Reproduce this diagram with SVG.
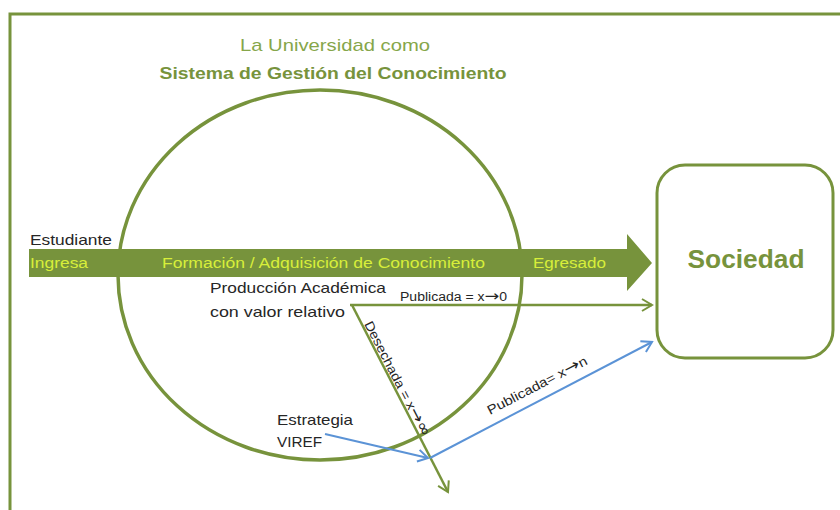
<svg xmlns="http://www.w3.org/2000/svg" width="840" height="510" viewBox="0 0 840 510">
<defs>
<style>
text{font-family:"Liberation Sans",Arial,sans-serif}
.sym{font-family:"DejaVu Sans",sans-serif;font-size:1.25em}
.g{fill:none;stroke:#77933c}
.b{fill:none;stroke:#5b93d6;stroke-width:2}
.dk{fill:#262626;font-size:15px}
.yl{fill:#d8ef3a;font-size:14px}
.sm{fill:#262626;font-size:12px}
</style>
<marker id="ag" markerUnits="userSpaceOnUse" markerWidth="14" markerHeight="14" refX="12" refY="7" orient="auto" viewBox="0 0 14 14">
<path d="M2,1 L12,7 L2,13" fill="none" stroke="#77933c" stroke-width="2"/>
</marker>
<marker id="ab" markerUnits="userSpaceOnUse" markerWidth="14" markerHeight="14" refX="12" refY="7" orient="auto" viewBox="0 0 14 14">
<path d="M2,1 L12,7 L2,13" fill="none" stroke="#5b93d6" stroke-width="2"/>
</marker>
</defs>
<rect width="840" height="510" fill="#ffffff"/>
<path d="M10,510 V14 H840" class="g" stroke-width="3"/>

<g id="title">
<text x="335" y="51" text-anchor="middle" font-size="17" fill="#86a64a" textLength="190" lengthAdjust="spacingAndGlyphs">La Universidad como</text>
<text x="333" y="79" text-anchor="middle" font-size="17" font-weight="bold" fill="#77933c" textLength="347" lengthAdjust="spacingAndGlyphs">Sistema de Gestión del Conocimiento</text>
</g>

<g id="universidad">
<ellipse cx="320" cy="275" rx="202" ry="185" class="g" stroke-width="3.5"/>
</g>

<g id="formacion">
<path d="M29,249 H627 V234 L652,263 L627,291 V277 H29 Z" fill="#77933c"/>
<text x="30" y="245" class="dk" textLength="82" lengthAdjust="spacingAndGlyphs">Estudiante</text>
<text x="30" y="268" class="yl" textLength="58" lengthAdjust="spacingAndGlyphs">Ingresa</text>
<text x="162" y="268" class="yl" textLength="323" lengthAdjust="spacingAndGlyphs">Formación / Adquisición de Conocimiento</text>
<text x="533" y="268" class="yl" textLength="73" lengthAdjust="spacingAndGlyphs">Egresado</text>
</g>

<g id="sociedad">
<rect x="657" y="165" width="176" height="193" rx="28" class="g" stroke-width="3"/>
<text x="746" y="268" text-anchor="middle" font-size="26" font-weight="bold" fill="#77933c" textLength="117" lengthAdjust="spacingAndGlyphs">Sociedad</text>
</g>

<g id="produccion">
<text x="210" y="293" class="dk" textLength="176" lengthAdjust="spacingAndGlyphs">Producción Académica</text>
<text x="210" y="317" class="dk" textLength="135" lengthAdjust="spacingAndGlyphs">con valor relativo</text>
</g>

<g id="estrategia">
<text x="277" y="425" class="dk" textLength="76" lengthAdjust="spacingAndGlyphs">Estrategia</text>
<text x="277" y="447" class="dk" textLength="45" lengthAdjust="spacingAndGlyphs">VIREF</text>
</g>

<g id="connectors">
<path d="M350,305 H652" class="g" stroke-width="2.5" marker-end="url(#ag)"/>
<path d="M352,305 L448,492" class="g" stroke-width="2.5" marker-end="url(#ag)"/>
<path d="M325,434 L428,458" class="b" marker-end="url(#ab)"/>
<path d="M430,458 L652,342" class="b" marker-end="url(#ab)"/>
<text x="400" y="301" class="sm" textLength="107" lengthAdjust="spacingAndGlyphs">Publicada = x<tspan class="sym">→</tspan>0</text>
<text transform="translate(364,324) rotate(62.8)" font-size="13" fill="#262626" textLength="128" lengthAdjust="spacingAndGlyphs">Desechada = x<tspan class="sym">→∞</tspan></text>
<text transform="translate(490,415) rotate(-27.4)" font-size="13" fill="#262626" textLength="111" lengthAdjust="spacingAndGlyphs">Publicada= x<tspan class="sym">→</tspan>n</text>
</g>
</svg>
